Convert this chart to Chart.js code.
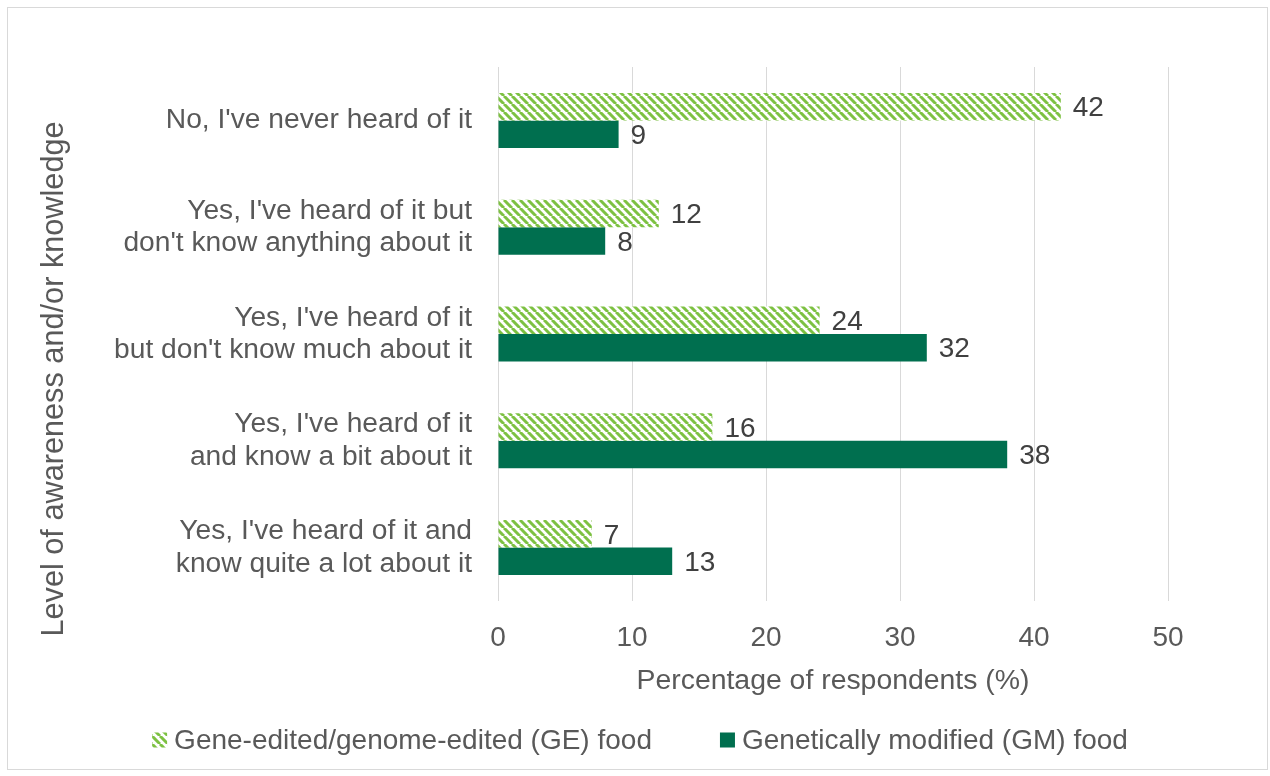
<!DOCTYPE html>
<html>
<head>
<meta charset="utf-8">
<script src="https://cdn.jsdelivr.net/npm/chart.js@4.4.1/dist/chart.umd.min.js"></script>
<style>
  html, body { margin: 0; padding: 0; background: #fff; }
  #wrap { position: relative; width: 1270px; height: 776px; }
</style>
</head>
<body>
<div id="wrap"><canvas id="chart" width="1270" height="776"></canvas></div>
<script>
    'use strict';

    const categories = [
        ["No, I've never heard of it"],
        ["Yes, I've heard of it but", "don't know anything about it"],
        ["Yes, I've heard of it", "but don't know much about it"],
        ["Yes, I've heard of it", "and know a bit about it"],
        ["Yes, I've heard of it and", "know quite a lot about it"]
    ];
    const geValues = [42, 12, 24, 16, 7];
    const gmValues = [9, 8, 32, 38, 13];
    const seriesNames = ['Gene-edited/genome-edited (GE) food', 'Genetically modified (GM) food'];
    const xTicks = [0, 10, 20, 30, 40, 50];
    const xTitle = 'Percentage of respondents (%)';
    const yTitle = 'Level of awareness and/or knowledge';

    const fontFamily = '"Liberation Sans", Arial, sans-serif';
    const textColor = '#595959';
    const gmColor = '#006F4F';
    const hatchColor = '#7DC142';

    function makeHatch() {
        const c = document.createElement('canvas');
        c.width = 8;
        c.height = 8;
        const g = c.getContext('2d');
        g.fillStyle = '#ffffff';
        g.fillRect(0, 0, 8, 8);
        g.strokeStyle = hatchColor;
        g.lineWidth = 3;
        g.beginPath();
        [-8, 0, 8].forEach(k => {
            g.moveTo(k, 0);
            g.lineTo(k + 8, 8);
        });
        g.stroke();
        return g.createPattern(c, 'repeat');
    }
    const hatch = makeHatch();

    // frame round the whole picture
    const framePlugin = {
        id: 'frame',
        beforeDraw(chart) {
            const ctx = chart.ctx;
            ctx.save();
            ctx.fillStyle = '#fff';
            ctx.fillRect(0, 0, chart.width, chart.height);
            ctx.strokeStyle = '#d9d9d9';
            ctx.lineWidth = 1;
            ctx.strokeRect(7.5, 7.5, chart.width - 10, chart.height - 14);
            ctx.restore();
        }
    };

    // value labels at the end of each bar
    const valueLabels = {
        id: 'valueLabels',
        afterDatasetsDraw(chart) {
            const ctx = chart.ctx;
            ctx.save();
            ctx.font = '28px ' + fontFamily;
            ctx.fillStyle = '#404040';
            ctx.textAlign = 'left';
            ctx.textBaseline = 'middle';
            chart.data.datasets.forEach((ds, i) => {
                chart.getDatasetMeta(i).data.forEach((bar, j) => {
                    ctx.fillText(String(ds.data[j]), bar.x + 12, bar.y + 2);
                });
            });
            ctx.restore();
        }
    };

    // rotated y title, sitting a little below the plot's middle as in the original
    const yTitlePlugin = {
        id: 'yTitle',
        afterDraw(chart) {
            const ctx = chart.ctx;
            ctx.save();
            ctx.translate(63, 379);
            ctx.rotate(-Math.PI / 2);
            ctx.font = '30.7px ' + fontFamily;
            ctx.fillStyle = textColor;
            ctx.textAlign = 'center';
            ctx.textBaseline = 'alphabetic';
            ctx.fillText(yTitle, 0, 0);
            ctx.restore();
        }
    };

    // legend row under the axis title
    const legendPlugin = {
        id: 'bottomLegend',
        afterDraw(chart) {
            const ctx = chart.ctx;
            const box = 15, boxGap = 7, itemGap = 68, midX = 640, midY = 740;
            ctx.save();
            ctx.font = '28px ' + fontFamily;
            const widths = chart.data.datasets.map(ds => ctx.measureText(ds.label).width);
            const total = widths.reduce((s, w) => s + w + box + boxGap, 0) + itemGap * (widths.length - 1);
            let x = midX - total / 2;
            ctx.textAlign = 'left';
            ctx.textBaseline = 'middle';
            chart.data.datasets.forEach((ds, i) => {
                ctx.fillStyle = ds.backgroundColor;
                ctx.fillRect(x, midY - box / 2, box, box);
                ctx.fillStyle = textColor;
                ctx.fillText(ds.label, x + box + boxGap, midY + 1);
                x += box + boxGap + widths[i] + itemGap;
            });
            ctx.restore();
        }
    };

    new Chart(document.getElementById('chart'), {
        type: 'bar',
        data: {
            labels: categories,
            datasets: [
                {
                    label: seriesNames[0],
                    data: geValues,
                    backgroundColor: hatch,
                    borderWidth: 0,
                    categoryPercentage: 0.515,
                    barPercentage: 1
                },
                {
                    label: seriesNames[1],
                    data: gmValues,
                    backgroundColor: gmColor,
                    borderWidth: 0,
                    categoryPercentage: 0.515,
                    barPercentage: 1
                }
            ]
        },
        options: {
            indexAxis: 'y',
            responsive: false,
            animation: false,
            devicePixelRatio: 1,
            layout: { padding: { left: 24, right: 102, top: 67, bottom: 0 } },
            scales: {
                x: {
                    min: 0,
                    max: 50,
                    afterBuildTicks(scale) {
                        scale.ticks = xTicks.map(v => ({ value: v }));
                    },
                    afterFit(scale) {
                        scale.height = 175;
                    },
                    grid: { color: '#d9d9d9', lineWidth: 1, drawTicks: false },
                    border: { display: false },
                    ticks: {
                        padding: 20,
                        color: textColor,
                        font: { family: fontFamily, size: 28 }
                    },
                    title: {
                        display: true,
                        text: xTitle,
                        color: textColor,
                        font: { family: fontFamily, size: 28.4 },
                        padding: { top: 4, bottom: 78 }
                    }
                },
                y: {
                    afterFit(scale) {
                        scale.width = 474;
                    },
                    grid: { display: false },
                    border: { display: false },
                    ticks: {
                        padding: 18,
                        color: textColor,
                        font: { family: fontFamily, size: 28.2, lineHeight: 1.15 }
                    }
                }
            },
            plugins: {
                legend: { display: false },
                tooltip: { enabled: false }
            }
        },
        plugins: [framePlugin, valueLabels, yTitlePlugin, legendPlugin]
    });
</script>
</body>
</html>
